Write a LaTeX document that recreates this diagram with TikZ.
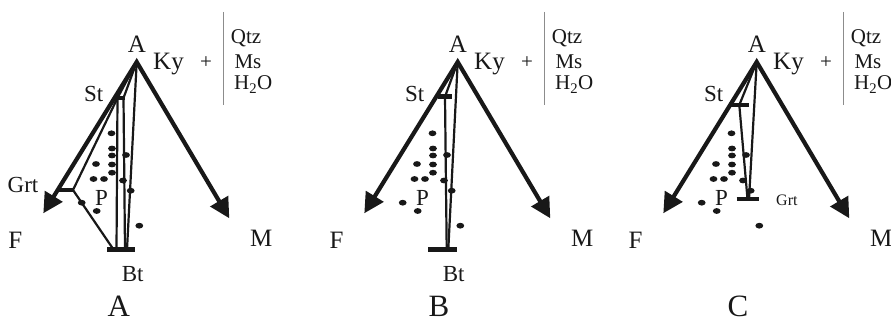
\documentclass[tikz,border=0pt]{standalone}
\usepackage{fontspec}
\setmainfont{Liberation Serif}
\usetikzlibrary{arrows.meta}
\definecolor{InkDark}{RGB}{24,24,24}
\definecolor{RuleGray}{RGB}{140,140,140}

\begin{document}
\begin{tikzpicture}[x=1pt, y=-1pt,
        axisarrow/.style={draw=InkDark, line width=4.2pt, line join=miter,
                          {Triangle[length=20pt,width=20pt]}-{Triangle[length=20pt,width=20pt]}},
        tieline/.style={draw=InkDark, line width=2.2pt},
        tiebar/.style={draw=InkDark, line width=4.5pt},
        biglbl/.style={inner sep=0pt, anchor=base west, text=InkDark,
                       font=\fontsize{25}{25}\selectfont},
        midlbl/.style={biglbl, font=\fontsize{23}{23}\selectfont},
        smalllbl/.style={biglbl, font=\fontsize{21}{21}\selectfont},
        tinylbl/.style={biglbl, font=\fontsize{16}{16}\selectfont},
        panellbl/.style={biglbl, font=\fontsize{31}{31}\selectfont}
      ]
        \useasboundingbox (0,0) rectangle (891,323);

        % common part of the three AFM triangles
        \foreach \p/\dx/\ttl in {a/0/A, b/321/B, c/620/C} {
          \begin{scope}[xshift=\dx pt]
            \coordinate (apex\p) at (136.7,62);
            \coordinate (ftip\p) at (43.3,213.3);
            \coordinate (mtip\p) at (229.3,218.3);
            \draw[axisarrow] (ftip\p) -- (apex\p) -- (mtip\p);

            \node[biglbl, anchor=base] (vtx\p) at (137,52.5) {A};
            \node[biglbl] (ky\p) at (153,69.5) {Ky};
            \node[smalllbl, anchor=center] (plus\p) at (206,63) {+};
            \coordinate (rtop\p) at (223,12);
            \coordinate (rbot\p) at (223,105);
            \draw[RuleGray, line width=1pt] (rtop\p) -- (rbot\p);
            \node[smalllbl] (qtz\p) at (230.7,43.3) {Qtz};
            \node[smalllbl] (ms\p) at (234.3,68.3) {Ms};
            \node[smalllbl] (water\p) at (234,90) {H\textsubscript{2}O};

            \node[biglbl] (flbl\p) at (8.3,248) {F};
            \node[biglbl] (mlbl\p) at (250,246.7) {M};
            \node[midlbl] (stlbl\p) at (84,101.5) {St};
            \node[midlbl] (plbl\p) at (95,205) {P};
            \node[panellbl] (ttl\p) at (107.5,316) {\ttl};

            \foreach \u/\v in {111.5/133.3, 112/148.5, 112/155.5, 112/164.5, 112/172.7,
                               96/164, 93.5/179, 104/179, 96.7/211, 81.7/202.7,
                               126/155, 123/180.5, 130.7/190.7, 139.3/225.7}
              \fill[InkDark] (\u,\v) ellipse [x radius=3.9pt, y radius=2.9pt];
          \end{scope}
        }

        % A: Grt-St-Bt
        \coordinate (stLa) at (117.5,98);
        \coordinate (stRa) at (123.5,98);
        \coordinate (grtPa) at (73,190);
        \coordinate (bt1a) at (113.5,249.5);
        \coordinate (bt2a) at (116.5,249.5);
        \coordinate (bt3a) at (125,249.5);
        \coordinate (bt4a) at (127,249.5);
        \draw[tieline] (apexa) -- (stLa) -- (grtPa) -- (bt1a);
        \draw[tieline] (apexa) -- (stRa) -- (bt3a);
        \draw[tieline] (stLa) -- (bt2a);
        \draw[tieline] (apexa) -- (bt4a);
        \draw[tiebar] (116,98) -- (125,98);
        \draw[tiebar] (57,190) -- (74,190);
        \draw[tiebar] (107,249.5) -- (135,249.5);
        \node[midlbl] (grtlbla) at (7.5,193) {Grt};
        \node[midlbl] (btlbla) at (121.7,281.7) {Bt};

        % B: St-Bt
        \begin{scope}[xshift=321pt]
          \coordinate (stPb) at (124,96.7);
          \coordinate (bt1b) at (125.7,249.5);
          \coordinate (bt2b) at (127.3,249.5);
          \draw[tieline] (apexb) -- (stPb) -- (bt1b);
          \draw[tieline] (apexb) -- (bt2b);
          \draw[tiebar] (117.3,96.7) -- (130.7,96.7);
          \draw[tiebar] (107.3,249.5) -- (135.7,249.5);
          \node[midlbl] (btlblb) at (121.7,281.7) {Bt};
        \end{scope}

        % C: St-Grt
        \begin{scope}[xshift=620pt]
          \coordinate (stPc) at (119.3,105);
          \coordinate (grt1c) at (127.5,199);
          \coordinate (grt2c) at (129,199);
          \draw[tieline] (apexc) -- (stPc) -- (grt1c);
          \draw[tieline] (apexc) -- (grt2c);
          \draw[tiebar] (110,105) -- (129.3,105);
          \draw[tiebar] (116.7,199) -- (139.3,199);
          \node[tinylbl] (grtlblc) at (156,205) {Grt};
        \end{scope}
      \end{tikzpicture}
\end{document}
